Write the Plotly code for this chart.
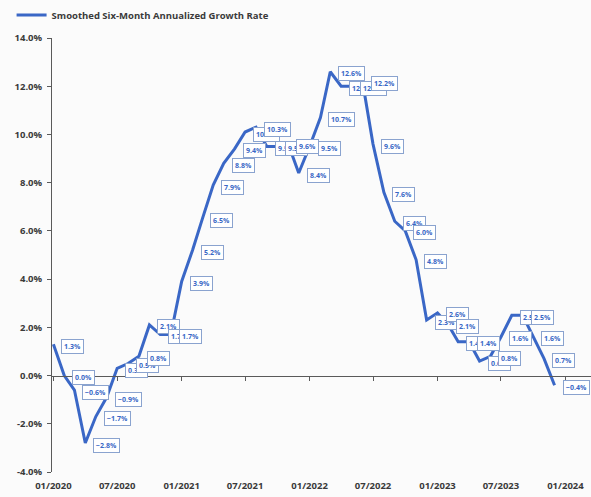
import plotly.graph_objects as go
import pandas as pd

months = pd.date_range("2020-01-01", "2023-12-01", freq="MS")
growth = [1.3, 0.0, -0.6, -2.8, -1.7, -0.9, 0.3, 0.5, 0.8, 2.1, 1.7, 1.7,
          3.9, 5.2, 6.5, 7.9, 8.8, 9.4, 10.1, 10.3, 9.5, 9.5, 9.6, 8.4,
          9.5, 10.7, 12.6, 12.0, 12.0, 12.2, 9.6, 7.6, 6.4, 6.0, 4.8, 2.3,
          2.6, 2.1, 1.4, 1.4, 0.6, 0.8, 1.6, 2.5, 2.5, 1.6, 0.7, -0.4]
series_name = "Smoothed Six-Month Annualized Growth Rate"
y_ticks = [-4, -2, 0, 2, 4, 6, 8, 10, 12, 14]
y_range = [-4, 14]
x_range = ["2019-12-28", "2024-03-14"]

BLUE = "#3a67c6"
AXIS = "#5a5a5a"
BG = "#fbfbfb"
TXT = "#3a3a3a"

fig = go.Figure()
fig.add_trace(go.Scatter(
    x=months, y=growth, mode="lines", name=series_name,
    line=dict(color=BLUE, width=3), hoverinfo="skip"))
# invisible helper trace for the zero-line axis and dashed border grid
fig.add_trace(go.Scatter(
    x=months, y=growth, mode="lines", xaxis="x2", yaxis="y2",
    line=dict(color="rgba(0,0,0,0)", width=0), showlegend=False, hoverinfo="skip"))

for d, v in zip(months, growth):
    fig.add_annotation(
        x=d, y=v, text=f"{v:.1f}%".replace("-", "\u2212"), showarrow=False,
        xanchor="left", yanchor="middle", xshift=8, yshift=-2,
        font=dict(family="Open Sans", size=7, color=BLUE, weight="bold"),
        bgcolor="white", bordercolor="#8aa3cf", borderwidth=1, borderpad=2)

fig.update_layout(
    width=591, height=497,
    margin=dict(l=52, r=0, t=35, b=25),
    paper_bgcolor=BG, plot_bgcolor=BG,
    font=dict(family="Open Sans", color=TXT),
    showlegend=True,
    legend=dict(x=-0.075, y=1.053, xanchor="left", yanchor="middle",
                bgcolor="rgba(0,0,0,0)", borderwidth=0,
                font=dict(size=9.5, color=TXT, weight="bold"),
                itemwidth=30),
    xaxis=dict(type="date", range=x_range, tickformat="%m/%Y",
               dtick="M6", tick0="2020-01-01", showgrid=False, zeroline=False,
               showline=False, ticks="", ticklabelstandoff=6,
               tickfont=dict(size=9.5, color=TXT, weight="bold")),
    yaxis=dict(range=y_range, tickvals=y_ticks,
               ticktext=[f"{t:.1f}%".replace("-", "-") for t in y_ticks],
               showgrid=False, zeroline=False, showline=True, linecolor=AXIS,
               linewidth=1, ticks="outside", ticklen=4, tickcolor=AXIS,
               ticklabelstandoff=3,
               tickfont=dict(size=9.5, color=TXT, weight="bold")),
    xaxis2=dict(type="date", range=x_range, overlaying="x", anchor="free",
                position=(0 - y_range[0]) / (y_range[1] - y_range[0]),
                dtick="M6", tick0="2020-01-01", showticklabels=False,
                showgrid=False, zeroline=False, showline=True, linecolor=AXIS,
                linewidth=1, ticks="outside", ticklen=4, tickcolor=AXIS),
    yaxis2=dict(range=y_range, overlaying="y", anchor="x", side="left",
                tickvals=[y_range[0], y_range[1]], showticklabels=False,
                showgrid=True, gridcolor="#c8c8c8", griddash="3px,3px",
                gridwidth=1, zeroline=False, showline=False, ticks=""),
)

fig.write_html("out.html")
